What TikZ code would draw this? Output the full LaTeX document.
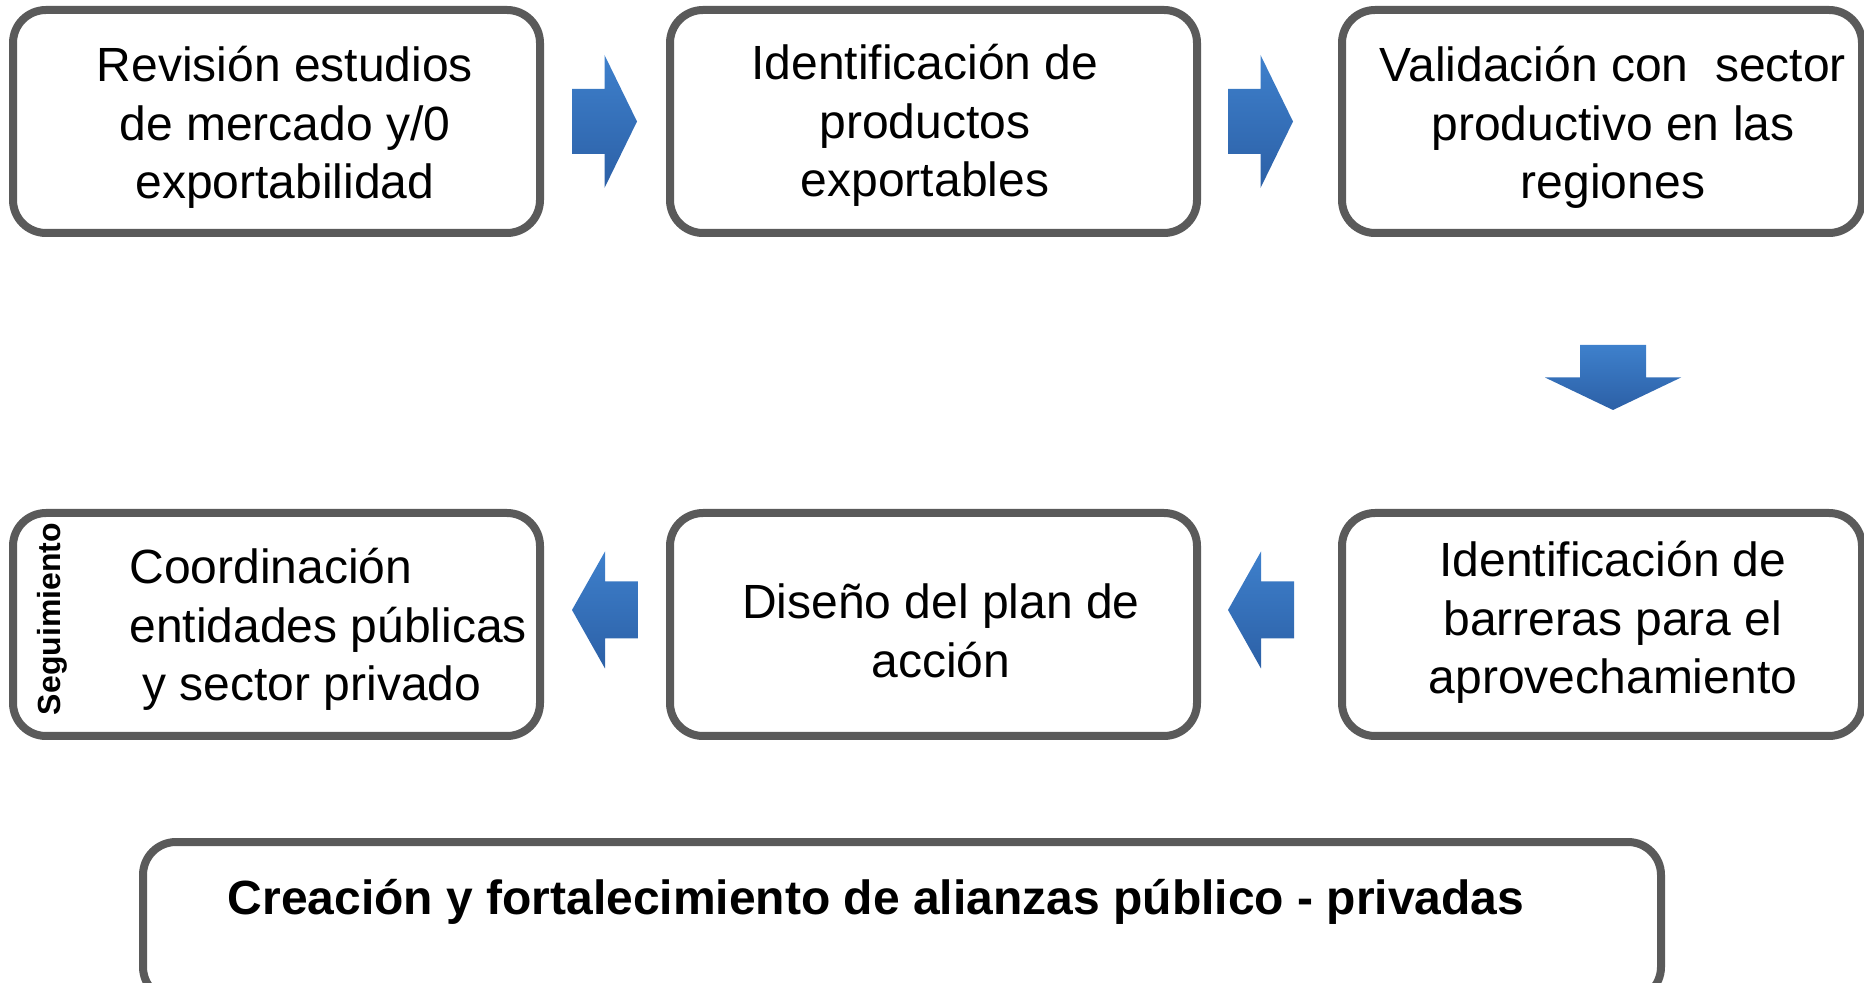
\documentclass[tikz,border=0pt]{standalone}
\usepackage{fontspec}
\setmainfont{Liberation Sans}
\usetikzlibrary{calc}
\definecolor{boxgray}{RGB}{90,90,90}
\definecolor{arrtop}{RGB}{62,128,204}
\definecolor{arrbot}{RGB}{44,96,166}
\begin{document}
\begin{tikzpicture}[x=0.5pt,y=-0.5pt,
  box/.style={draw=boxgray, line width=4pt, rounded corners=16.5pt, outer sep=0pt, inner sep=0pt, fill=white},
  rowone/.style={minimum height=111.5pt},
  rowtwo/.style={minimum height=111.5pt},
  txt/.style={align=center, inner sep=0pt, font=\fontsize{24}{29.25}\selectfont},
  arrowfill/.style={top color=arrtop, bottom color=arrbot, draw=none},
  rarrow/.pic={\shade[arrowfill] (-32.5,-32.5) -- (0,-32.5) -- (0,-66.5) -- (32.5,0) -- (0,66.5) -- (0,32.5) -- (-32.5,32.5) -- cycle;},
  larrow/.pic={\shade[arrowfill] (33,-28.5) -- (0,-28.5) -- (0,-58.5) -- (-33,0) -- (0,58.5) -- (0,28.5) -- (33,28.5) -- cycle;},
  darrow/.pic={\shade[arrowfill] (-33,-32.5) -- (33,-32.5) -- (33,0) -- (68,0) -- (0,32.5) -- (-68,0) -- (-33,0) -- cycle;}
]
\useasboundingbox (0,0) rectangle (1864,983);
\clip (0,0) rectangle (1864,983);

% boxes
\node[box, rowone, minimum width=263.5pt] (b1) at (276.5,121.5) {};
\node[box, rowone, minimum width=263.5pt] (b2) at (933.5,121.5) {};
\node[box, rowone, minimum width=260pt] (b3) at (1602,121.5) {};
\node[box, rowtwo, minimum width=260pt] (b4) at (1602,624.5) {};
\node[box, rowtwo, minimum width=263.5pt] (b5) at (933.5,624.5) {};
\node[box, rowtwo, minimum width=263.5pt] (b6) at (276.5,624.5) {};
\node[box, minimum width=759pt, minimum height=79pt] (b7) at (902,921) {};

% texts
\node[txt] (t1) at (285,127.5) {Revisión estudios\\de mercado y/0\\exportabilidad};
\node[txt] (t2) at (925,125.5) {Identificación de\\productos\\exportables};
\node[txt] (t3) at (1613,127.5) {Validación con\ \ sector\\productivo en las\\regiones};
\node[txt] (t4) at (1613,622.5) {Identificación de\\barreras para el\\aprovechamiento};
\node[txt] (t5) at (941,631) {Diseño del plan de\\acción};
\node[txt, align=left, anchor=west] (t6) at (129,629.5) {Coordinación\\entidades públicas\\\hspace*{6.5pt}y sector privado};
\node[rotate=90, inner sep=0pt, font=\bfseries\fontsize{16}{18}\selectfont] (seg) at (52,619) {Seguimiento};
\node[inner sep=0pt, font=\bfseries\fontsize{24}{29}\selectfont] (t7) at (876,902) {Creación y fortalecimiento de alianzas público - privadas};

% block arrows
\pic at ($(b1.east)+(64.5,0)$) {rarrow};
\pic at ($(b2.east)+(63.5,0)$) {rarrow};
\pic at ($(b3.south)+(11,144.5)$) {darrow};
\pic at ($(b6.east)+(65,-14.5)$) {larrow};
\pic at ($(b5.east)+(64,-14.5)$) {larrow};
\end{tikzpicture}
\end{document}
